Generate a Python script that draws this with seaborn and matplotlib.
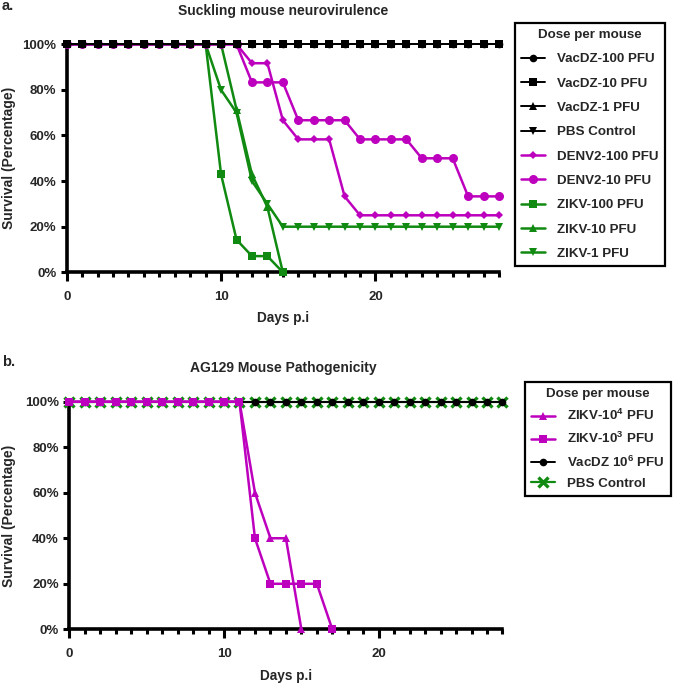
import matplotlib
matplotlib.use("Agg")
import matplotlib.pyplot as plt
from matplotlib.ticker import MultipleLocator, FixedLocator
import seaborn as sns

# ---------------- data ----------------
days_all = list(range(0, 29))
days_to14 = list(range(0, 15))
days_to15 = list(range(0, 16))
days_to17 = list(range(0, 18))

# panel a (survival %)
vacdz_100 = [100, 100, 100, 100, 100, 100, 100, 100, 100, 100, 100, 100, 100, 100, 100,
             100, 100, 100, 100, 100, 100, 100, 100, 100, 100, 100, 100, 100, 100]
vacdz_10 = [100, 100, 100, 100, 100, 100, 100, 100, 100, 100, 100, 100, 100, 100, 100,
            100, 100, 100, 100, 100, 100, 100, 100, 100, 100, 100, 100, 100, 100]
vacdz_1 = [100, 100, 100, 100, 100, 100, 100, 100, 100, 100, 100, 100, 100, 100, 100,
           100, 100, 100, 100, 100, 100, 100, 100, 100, 100, 100, 100, 100, 100]
pbs_a = [100, 100, 100, 100, 100, 100, 100, 100, 100, 100, 100, 100, 100, 100, 100,
         100, 100, 100, 100, 100, 100, 100, 100, 100, 100, 100, 100, 100, 100]
denv2_100 = [100, 100, 100, 100, 100, 100, 100, 100, 100, 100, 100, 100, 91.7, 91.7, 66.7,
             58.3, 58.3, 58.3, 33.3, 25, 25, 25, 25, 25, 25, 25, 25, 25, 25]
denv2_10 = [100, 100, 100, 100, 100, 100, 100, 100, 100, 100, 100, 100, 83.3, 83.3, 83.3,
            66.7, 66.7, 66.7, 66.7, 58.3, 58.3, 58.3, 58.3, 50, 50, 50, 33.3, 33.3, 33.3]
zikv_100 = [100, 100, 100, 100, 100, 100, 100, 100, 100, 100, 42.9, 14.3, 7.1, 7.1, 0]
zikv_10 = [100, 100, 100, 100, 100, 100, 100, 100, 100, 100, 100, 71.4, 42.9, 28.6, 0]
zikv_1 = [100, 100, 100, 100, 100, 100, 100, 100, 100, 100, 80, 70, 40, 30, 20,
          20, 20, 20, 20, 20, 20, 20, 20, 20, 20, 20, 20, 20, 20]

# panel b (survival %)
zikv_1e4 = [100, 100, 100, 100, 100, 100, 100, 100, 100, 100, 100, 100, 60, 40, 40, 0]
zikv_1e3 = [100, 100, 100, 100, 100, 100, 100, 100, 100, 100, 100, 100, 40, 20, 20, 20, 20, 0]
vacdz_1e6 = [100, 100, 100, 100, 100, 100, 100, 100, 100, 100, 100, 100, 100, 100, 100,
             100, 100, 100, 100, 100, 100, 100, 100, 100, 100, 100, 100, 100, 100]
pbs_b = [100, 100, 100, 100, 100, 100, 100, 100, 100, 100, 100, 100, 100, 100, 100,
         100, 100, 100, 100, 100, 100, 100, 100, 100, 100, 100, 100, 100, 100]

y_ticks = [0, 20, 40, 60, 80, 100]
y_ticklabels = ["0%", "20%", "40%", "60%", "80%", "100%"]
x_ticks = [0, 10, 20]
x_ticklabels = ["0", "10", "20"]

labels_a = ["VacDZ-100 PFU", "VacDZ-10 PFU", "VacDZ-1 PFU", "PBS Control",
            "DENV2-100 PFU", "DENV2-10 PFU", "ZIKV-100 PFU", "ZIKV-10 PFU", "ZIKV-1 PFU"]
labels_b = [r"ZIKV-10$^{4}$ PFU", r"ZIKV-10$^{3}$ PFU", r"VacDZ 10$^{6}$ PFU", "PBS Control"]

# ---------------- style ----------------
sns.set_theme(style="white")
plt.rcParams["font.family"] = ["Liberation Sans", "DejaVu Sans"]
plt.rcParams["font.weight"] = "bold"
plt.rcParams["mathtext.fontset"] = "custom"
plt.rcParams["mathtext.rm"] = "Liberation Sans:bold"
plt.rcParams["mathtext.bf"] = "Liberation Sans:bold"
plt.rcParams["mathtext.it"] = "Liberation Sans:bold"
plt.rcParams["mathtext.default"] = "bf"

MAG = "#BD00BD"
GRN = "#118A11"
BLK = "#000000"

W, H = 673, 684
fig = plt.figure(figsize=(W / 100, H / 100), dpi=100)

def fx(px):
    return px / W

def fy(py):
    return 1 - py / H

ax_a = fig.add_axes([fx(66.7), fy(272.3), fx(499) - fx(66.7), fy(44.3) - fy(272.3)])
ax_b = fig.add_axes([fx(69.3), fy(629.3), fx(502.5) - fx(69.3), fy(401.7) - fy(629.3)])


def draw(ax, x, y, color, marker, ms, lw, label, z, mew=0.0, mec=None):
    sns.lineplot(x=x, y=y, ax=ax, color=color, marker=marker, markersize=ms,
                 linewidth=lw, label=label, zorder=z, clip_on=False,
                 markeredgewidth=mew, markeredgecolor=mec if mec else color,
                 estimator=None, sort=False)


# panel a series (drawn bottom to top)
draw(ax_a, days_all, zikv_1, GRN, "v", 5.5, 1.8, labels_a[8], 3)
draw(ax_a, days_to14, zikv_10, GRN, "^", 5.5, 1.8, labels_a[7], 3)
draw(ax_a, days_to14, zikv_100, GRN, "s", 5.5, 1.8, labels_a[6], 3)
draw(ax_a, days_all, denv2_10, MAG, "o", 6.5, 1.8, labels_a[5], 4)
draw(ax_a, days_all, denv2_100, MAG, "D", 4.0, 1.8, labels_a[4], 4)
draw(ax_a, days_all, pbs_a, BLK, "v", 5.5, 1.4, labels_a[3], 5)
draw(ax_a, days_all, vacdz_1, BLK, "^", 5.5, 1.4, labels_a[2], 5)
draw(ax_a, days_all, vacdz_100, BLK, "o", 5.5, 1.4, labels_a[0], 5)
draw(ax_a, days_all, vacdz_10, BLK, "s", 5.2, 1.4, labels_a[1], 6)

# panel b series
draw(ax_b, days_all, pbs_b, GRN, "x", 7.0, 1.6, labels_b[3], 3, mew=2.4)
draw(ax_b, days_all, vacdz_1e6, BLK, "o", 5.5, 1.4, labels_b[2], 4)
draw(ax_b, days_to17, zikv_1e3, MAG, "s", 6.0, 1.8, labels_b[1], 5)
draw(ax_b, days_to15, zikv_1e4, MAG, "^", 6.0, 1.8, labels_b[0], 5)

for ax in (ax_a, ax_b):
    ax.set_xlim(0, 28)
    ax.set_ylim(0, 100)
    for s in ("top", "right"):
        ax.spines[s].set_visible(False)
    for s in ("left", "bottom"):
        ax.spines[s].set_linewidth(2.6)
        ax.spines[s].set_color("black")
        ax.spines[s].set_zorder(2)
    ax.xaxis.set_major_locator(FixedLocator(x_ticks))
    ax.xaxis.set_minor_locator(MultipleLocator(1))
    ax.set_xticklabels(x_ticklabels)
    ax.set_yticks(y_ticks)
    ax.set_yticklabels(y_ticklabels)
    ax.tick_params(axis="x", which="major", direction="out", length=6.5, width=2.2,
                   color="black", pad=7.0, labelsize=9.5, bottom=True)
    ax.tick_params(axis="x", which="minor", direction="out", length=3.6, width=2.2,
                   color="black", bottom=True)
    ax.tick_params(axis="y", which="major", direction="out", length=4.5, width=2.2,
                   color="black", pad=3.0, labelsize=9.5, left=True)
    for t in ax.get_xticklabels() + ax.get_yticklabels():
        t.set_fontweight("bold")
    ax.set_xlabel("")
    ax.set_ylabel("")
    ax.grid(False)
    ax.set_facecolor("white")

# axis labels as figure text
for yc in (158, 515.5):
    fig.text(fx(9), fy(yc), "Survival (Percentage)", rotation=90, ha="center",
             va="center", fontsize=10, fontweight="bold")
fig.text(fx(283), fy(318), "Days p.i", ha="center", va="center", fontsize=9.8,
         fontweight="bold")
fig.text(fx(286), fy(676), "Days p.i", ha="center", va="center", fontsize=9.8,
         fontweight="bold")

# legends
def make_legend(ax, order_labels, anchor, spacing):
    handles, labels = ax.get_legend_handles_labels()
    hmap = dict(zip(labels, handles))
    hs = [hmap[l] for l in order_labels]
    leg = ax.legend(hs, order_labels, loc="upper left", bbox_to_anchor=anchor,
                    bbox_transform=fig.transFigure, title="Dose per mouse",
                    fontsize=9.6, title_fontsize=9.6, frameon=True, fancybox=False,
                    edgecolor="black", framealpha=1, handlelength=1.8,
                    handletextpad=0.9, labelspacing=spacing, borderpad=0.45,
                    borderaxespad=0)
    leg.get_frame().set_linewidth(1.6)
    leg.get_title().set_fontweight("bold")
    for t in leg.get_texts():
        t.set_fontweight("bold")
    return leg

make_legend(ax_a, labels_a, (fx(515), fy(23)), 0.9)
make_legend(ax_b, labels_b, (fx(525), fy(382)), 0.6)

# titles and panel letters
fig.text(fx(283), fy(11), "Suckling mouse neurovirulence", ha="center", va="center",
         fontsize=10, fontweight="bold")
fig.text(fx(283), fy(368), "AG129 Mouse Pathogenicity", ha="center", va="center",
         fontsize=10, fontweight="bold")
fig.text(fx(2), fy(6), "a.", ha="left", va="center", fontsize=10.5, fontweight="bold")
fig.text(fx(2), fy(362), "b.", ha="left", va="center", fontsize=10.5, fontweight="bold")

fig.savefig("out.png", dpi=100, facecolor="white")
